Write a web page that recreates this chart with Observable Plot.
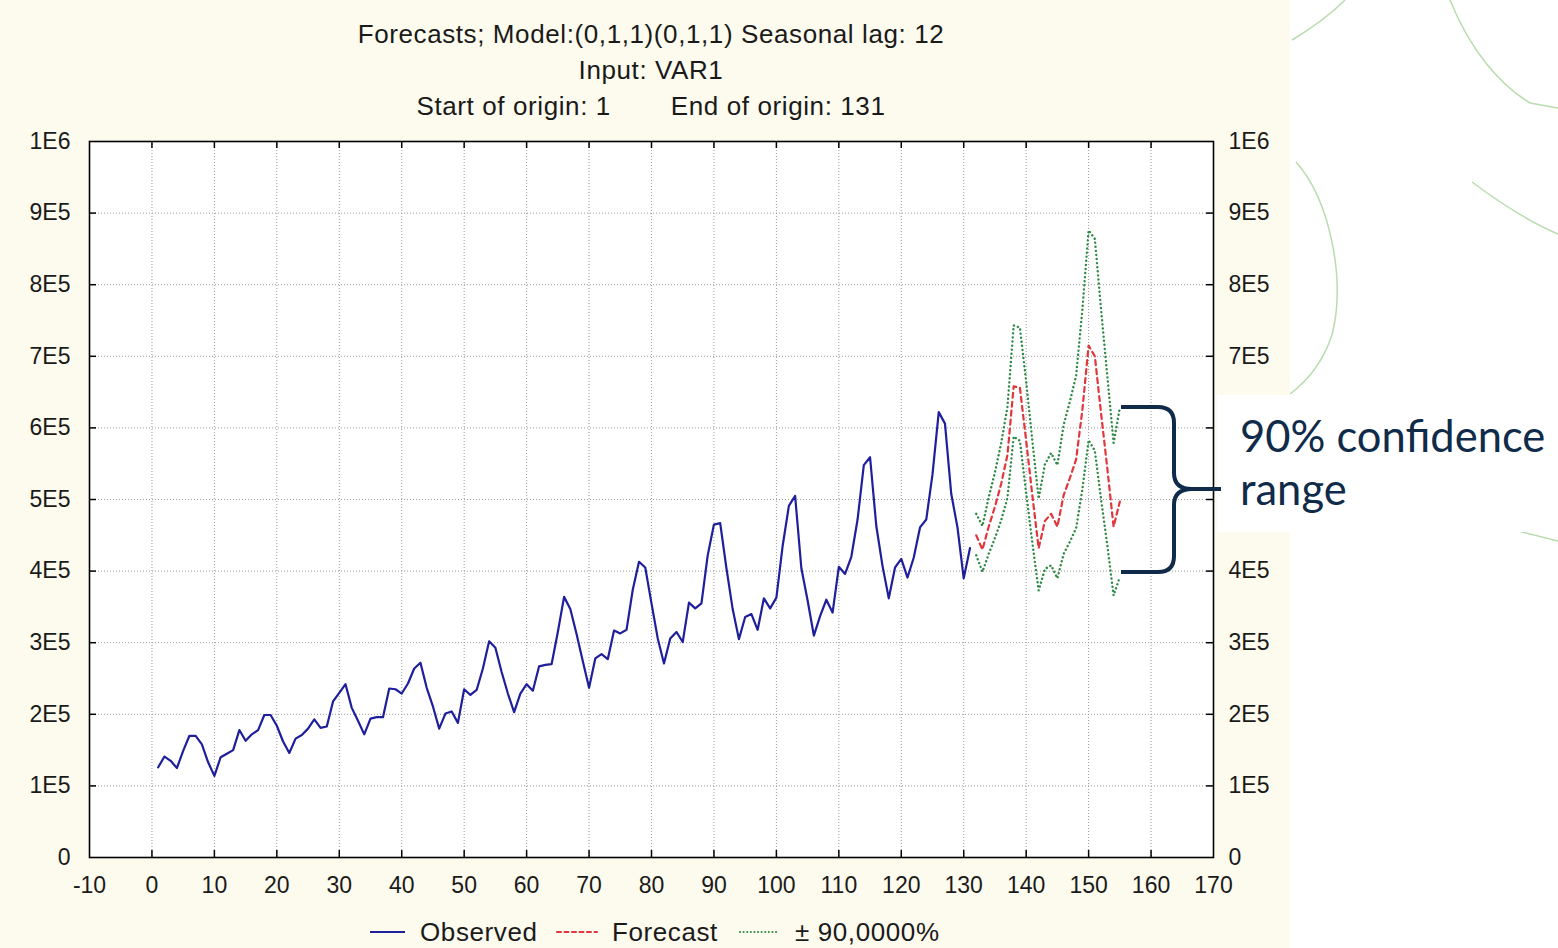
<!DOCTYPE html>
<html>
<head>
<meta charset="utf-8">
<script src="https://cdn.jsdelivr.net/npm/d3@7"></script>
<script src="https://cdn.jsdelivr.net/npm/@observablehq/plot@0.6"></script>
<style>
  html, body { margin: 0; padding: 0; background: #ffffff; }
  #page { position: relative; width: 1558px; height: 948px; overflow: hidden; background: #ffffff; }
  #decor, #overlay { position: absolute; left: 0; top: 0; }
  #panel { position: absolute; left: 0; top: 0; width: 1290px; height: 948px; background: #fdfaee; }
  #title { position: absolute; left: 0; top: 16px; width: 1302px; text-align: center;
           font-family: "Liberation Sans", Arial, sans-serif; font-size: 26px; letter-spacing: 0.6px; line-height: 36px; color: #1a1a1a; }
  #title .gap { display: inline-block; width: 60px; }
  #chart { position: absolute; left: 0; top: 120px; }
  .lg { position: absolute; font-family: "Liberation Sans", Arial, sans-serif; font-size: 26px; letter-spacing: 0.6px; line-height: 30px; color: #1a1a1a; white-space: nowrap; }
  .lgs { position: absolute; }
</style>
</head>
<body>
<div id="page">
  <svg id="decor" width="1558" height="948">
    <g fill="none" stroke="#b9dcae" stroke-width="1.5">
      <path d="M1450,0 C1470,50 1500,85 1530,103 L1558,108"/>
      <path d="M1296,162 C1330,200 1346,280 1332,335 C1322,365 1306,382 1290,394"/>
      <path d="M1472,182 C1500,203 1530,222 1558,234"/>
      <path d="M1490,524 L1558,541"/>
      <path d="M1345,0 C1330,15 1312,28 1292,40"/>
    </g>
  </svg>
  <div id="panel"></div>
  <div id="title">
    <div>Forecasts; Model:(0,1,1)(0,1,1) Seasonal lag: 12</div>
    <div>Input: VAR1</div>
    <div><span>Start of origin: 1</span><span class="gap"></span><span>End of origin: 131</span></div>
  </div>
  <div id="chart"></div>
  <svg id="overlay" width="1558" height="948"></svg>
  <div id="legend"></div>
</div>
<script>
// ---- Data ----
// Observed series, periods 1..131
const observedPeriods = d3.range(1, 132);
const observed = [
  126000,141000,135000,125000,149000,170000,170000,158000,133000,114000,140000,
  145000,150000,178000,163000,172000,178000,199000,199000,184000,162000,146000,166000,
  171000,180000,193000,181000,183000,218000,230000,242000,209000,191000,172000,194000,
  196000,196000,236000,235000,229000,243000,264000,272000,237000,211000,180000,201000,
  204000,188000,235000,227000,234000,264000,302000,293000,259000,229000,203000,229000,
  242000,233000,267000,269000,270000,315000,364000,347000,312000,274000,237000,278000,
  284000,277000,317000,313000,318000,374000,413000,405000,355000,306000,271000,306000,
  315000,301000,356000,348000,355000,422000,465000,467000,404000,347000,305000,336000,
  340000,318000,362000,348000,363000,435000,491000,505000,404000,359000,310000,337000,
  360000,342000,406000,396000,420000,472000,548000,559000,463000,407000,362000,405000,
  417000,391000,419000,461000,472000,535000,622000,606000,508000,461000,390000,432000
];
// Forecast periods 132..155
const forecastPeriods = d3.range(132, 156);
const forecast = [
  450000,430000,462000,490000,522000,562000,658000,656000,582000,505000,432000,470000,
  480000,462000,506000,530000,556000,625000,715000,700000,620000,543000,462000,497000
];
const upper90 = [
  480000,463000,503000,538000,579000,629000,743000,740000,665000,581000,501000,549000,
  565000,548000,604000,637000,673000,765000,876000,864000,765000,672000,579000,628000
];
const lower90 = [
  422000,399000,424000,446000,471000,502000,588000,582000,509000,439000,373000,403000,
  408000,390000,424000,441000,460000,514000,583000,568000,500000,436000,366000,392000
];
// Axes
const xTicks = d3.range(-10, 171, 10);
const xTickLabels = xTicks.map(String);
const xGrid = d3.range(0, 161, 10);
const yTicks = [0,100000,200000,300000,400000,500000,600000,700000,800000,900000,1000000];
const yTickLabels = ["0","1E5","2E5","3E5","4E5","5E5","6E5","7E5","8E5","9E5","1E6"];
// right-hand labels visible in the reference (5E5 and 6E5 are covered by the annotation box)
const yTicksRight = [0,100000,200000,300000,400000,700000,800000,900000,1000000];
const yGrid = yTicks.slice(1, -1);

const legendLabels = ["Observed", "Forecast", "\u00b1 90,0000%"];
const annotationLines = ["90% confidence", "range"];

// ---- Tables ----
const obsRows = observed.map((v, i) => ({t: observedPeriods[i], v}));
const fcRows = forecast.map((v, i) => ({t: forecastPeriods[i], v, hi: upper90[i], lo: lower90[i]}));

const colObs = "#1f1f9c", colFc = "#e0373c", colBand = "#2f8a46";
const yFmt = d => yTickLabels[yTicks.indexOf(d)];
const xFmt = d => xTickLabels[xTicks.indexOf(d)];

const chart = Plot.plot({
  width: 1290,
  height: 782,
  marginLeft: 89,
  marginRight: 77,
  marginTop: 21,
  marginBottom: 45,
  style: {background: "transparent", fontFamily: "'Liberation Sans', Arial, sans-serif", fontSize: "23px", color: "#1a1a1a", overflow: "visible"},
  x: {domain: [-10, 170]},
  y: {domain: [0, 1000000]},
  marks: [
    Plot.frame({fill: "white", stroke: null}),
    Plot.gridX(xGrid, {stroke: "#9a9a9a", strokeOpacity: 1, strokeDasharray: "1,2"}),
    Plot.gridY(yGrid, {stroke: "#9a9a9a", strokeOpacity: 1, strokeDasharray: "1,2"}),
    Plot.line(obsRows, {x: "t", y: "v", stroke: colObs, strokeWidth: 2.2}),
    Plot.line(fcRows, {x: "t", y: "hi", stroke: colBand, strokeWidth: 2.4, strokeDasharray: "0.1,4", strokeLinecap: "round"}),
    Plot.line(fcRows, {x: "t", y: "lo", stroke: colBand, strokeWidth: 2.4, strokeDasharray: "0.1,4", strokeLinecap: "round"}),
    Plot.line(fcRows, {x: "t", y: "v", stroke: colFc, strokeWidth: 2.2, strokeDasharray: "5,4"}),
    Plot.tickX(xTicks.slice(1, -1), {x: d => d, insetTop: 709, stroke: "#000", strokeWidth: 1.5}),
    Plot.tickX(xTicks.slice(1, -1), {x: d => d, insetBottom: 709, stroke: "#000", strokeWidth: 1.5}),
    Plot.tickY(yTicks.slice(1, -1), {y: d => d, insetRight: 1117, stroke: "#000", strokeWidth: 1.5}),
    Plot.tickY(yTicks.slice(1, -1), {y: d => d, insetLeft: 1117, stroke: "#000", strokeWidth: 1.5}),
    Plot.axisX(xTicks, {anchor: "bottom", tickSize: 0, tickPadding: 19, label: null, tickFormat: xFmt}),
    Plot.axisY(yTicks, {anchor: "left", tickSize: 0, tickPadding: 19, label: null, tickFormat: yFmt}),
    Plot.axisY(yTicksRight, {anchor: "right", tickSize: 0, tickPadding: 15, label: null, tickFormat: yFmt}),
    Plot.frame({stroke: "#000", strokeWidth: 1.6})
  ]
});
document.getElementById("chart").appendChild(chart);

// ---- Legend (below the plot) ----
const legend = document.getElementById("legend");
const items = [
  {sx: 370, ex: 405, tx: 420, color: colObs, dash: null, label: legendLabels[0]},
  {sx: 557, ex: 597, tx: 612, color: colFc, dash: "4,3.5", label: legendLabels[1]},
  {sx: 740, ex: 778, tx: 795, color: colBand, dash: "0.1,3.5", label: legendLabels[2]}
];
items.forEach(it => {
  const s = document.createElementNS("http://www.w3.org/2000/svg", "svg");
  s.setAttribute("class", "lgs");
  s.setAttribute("width", it.ex - it.sx + 4);
  s.setAttribute("height", 8);
  s.style.left = (it.sx - 2) + "px";
  s.style.top = "928px";
  const l = document.createElementNS("http://www.w3.org/2000/svg", "line");
  l.setAttribute("x1", 2); l.setAttribute("x2", it.ex - it.sx + 2);
  l.setAttribute("y1", 4); l.setAttribute("y2", 4);
  l.setAttribute("stroke", it.color); l.setAttribute("stroke-width", 2);
  if (it.dash) { l.setAttribute("stroke-dasharray", it.dash); l.setAttribute("stroke-linecap", "round"); }
  s.appendChild(l);
  legend.appendChild(s);
  const t = document.createElement("div");
  t.className = "lg";
  t.style.left = it.tx + "px";
  t.style.top = "917px";
  t.textContent = it.label;
  legend.appendChild(t);
});

// ---- Annotation overlay (white box, brace, text) ----
const ov = d3.select("#overlay");
ov.append("rect").attr("x", 1217).attr("y", 395).attr("width", 341).attr("height", 137).attr("fill", "#ffffff");
ov.append("path")
  .attr("d", "M1121,407 L1158,407 Q1174,407 1174,423 L1174,473 Q1174,489 1192,489 L1221,489 M1192,489 Q1174,489 1174,505 L1174,556 Q1174,572 1158,572 L1121,572")
  .attr("fill", "none").attr("stroke", "#0f2b49").attr("stroke-width", 4);
ov.selectAll("text.ann").data(annotationLines).join("text")
  .attr("class", "ann")
  .attr("x", 1240)
  .attr("y", (d, i) => 452 + i * 53)
  .attr("fill", "#0f2b49")
  .attr("font-family", "Lato, 'Open Sans', sans-serif")
  .attr("font-size", 43.5)
  .text(d => d);
</script>
</body>
</html>
